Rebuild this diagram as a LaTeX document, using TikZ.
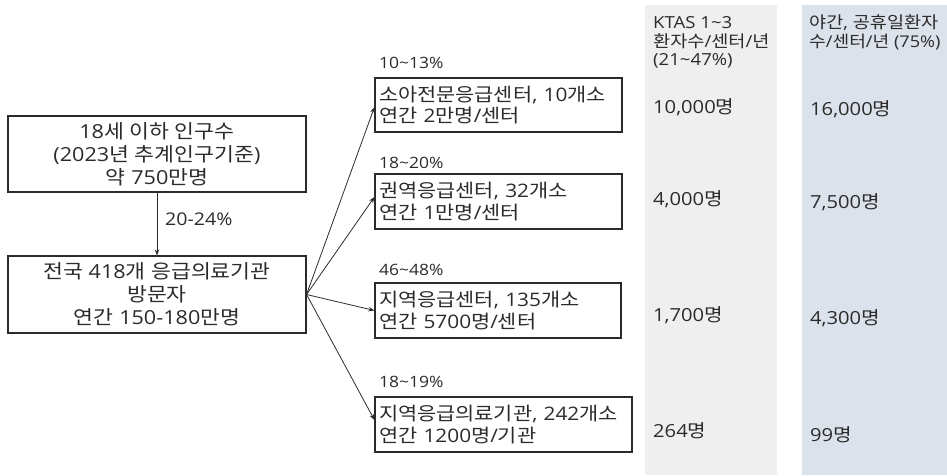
\documentclass[tikz,border=0pt]{standalone}
\usepackage{fontspec}
\setmainfont{Open Sans}[FakeStretch=1.12]
\newfontfamily\krfont{Noto Sans CJK KR}[FakeStretch=1.12]
\XeTeXinterchartokenstate=1
\newXeTeXintercharclass\hangulclass
\count255="AC00
\loop
  \XeTeXcharclass\count255=\hangulclass
  \ifnum\count255<"D7A3 \advance\count255 by 1 \repeat
\XeTeXinterchartoks 0 \hangulclass = {\begingroup\krfont}
\XeTeXinterchartoks 4095 \hangulclass = {\begingroup\krfont}
\XeTeXinterchartoks \hangulclass 0 = {\endgroup}
\XeTeXinterchartoks \hangulclass 4095 = {\endgroup}
\usetikzlibrary{arrows.meta}
\definecolor{ink}{HTML}{2B2B2B}
\definecolor{colgray}{HTML}{EFEFEF}
\definecolor{colblue}{HTML}{DCE2EB}
\tikzset{
  box/.style={draw=ink, line width=1.1pt, text=ink, inner sep=4pt},
  lefttxt/.style={font=\fontsize{19.3}{23}\selectfont, align=center},
  righttxt/.style={font=\fontsize{18.6}{21.5}\selectfont, align=left},
  lbl/.style={text=ink, font=\fontsize{15.6}{19}\selectfont, anchor=base west, inner sep=0pt},
  hdr/.style={text=ink, font=\fontsize{16.6}{19}\selectfont, anchor=base west, inner sep=0pt},
  val/.style={text=ink, font=\fontsize{18}{20}\selectfont, anchor=base west, inner sep=0pt},
  arr/.style={draw=ink, line width=0.8pt, -{Stealth[length=6pt,width=4.5pt]}},
}
\begin{document}
\begin{tikzpicture}[x=1pt,y=-1pt]
\useasboundingbox (0,0) rectangle (947,475);
% columns
\fill[colgray] (645,5) rectangle (777,475);
\fill[colblue] (802,5) rectangle (947,475);
% left boxes
\node[box, lefttxt, minimum width=298pt, minimum height=76pt] (A) at (157,154)
  {18세 이하 인구수\\(2023년 추계인구기준)\\약 750만명};
\node[box, lefttxt, minimum width=298pt, minimum height=77pt] (B) at (157,294.5)
  {전국 418개 응급의료기관\\방문자\\연간 150-180만명};
\draw[arr] (A) -- (B);
\node[lbl, font=\fontsize{17.5}{20}\selectfont] (p0) at (165,225) {20-24\%};
% right boxes
\node[box, righttxt, minimum width=247pt, minimum height=54pt, text width=239pt] (b1) at (498.5,105)
  {소아전문응급센터, 10개소\\연간 2만명/센터};
\node[box, righttxt, minimum width=247pt, minimum height=55pt, text width=239pt] (b2) at (498.5,201.5)
  {권역응급센터, 32개소\\연간 1만명/센터};
\node[box, righttxt, minimum width=246pt, minimum height=55pt, text width=238pt] (b3) at (498,310.5)
  {지역응급센터, 135개소\\연간 5700명/센터};
\node[box, righttxt, minimum width=257pt, minimum height=55pt, text width=249pt] (b4) at (503.5,424.5)
  {지역응급의료기관, 242개소\\연간 1200명/기관};
\node[lbl] (p1) at (379,68.5) {10\textasciitilde13\%};
\node[lbl] (p2) at (379,168) {18\textasciitilde20\%};
\node[lbl] (p3) at (379,275) {46\textasciitilde48\%};
\node[lbl] (p4) at (379,387) {18\textasciitilde19\%};
\draw[arr] (B.east) -- ([yshift=-2pt]b1.west);
\draw[arr] (B.east) -- ([yshift=4.5pt]b2.west);
\draw[arr] (B.east) -- (b3.west);
\draw[arr] (B.east) -- ([yshift=4.5pt]b4.west);
% column 1
\node[hdr] (h1a) at (653,28) {KTAS 1\textasciitilde3};
\node[hdr] (h1b) at (653,47) {환자수/센터/년};
\node[hdr] (h1c) at (653,65.5) {(21\textasciitilde47\%)};
\node[val] (v11) at (653,113) {10,000명};
\node[val] (v12) at (653,205) {4,000명};
\node[val] (v13) at (653,321) {1,700명};
\node[val] (v14) at (653,437) {264명};
% column 2
\node[hdr] (h2a) at (809,28) {야간, 공휴일환자};
\node[hdr, font=\fontsize{16.2}{19}\selectfont] (h2b) at (809,47.5) {수/센터/년 (75\%)};
\node[val] (v21) at (810,115) {16,000명};
\node[val] (v22) at (810,208.5) {7,500명};
\node[val] (v23) at (810,324) {4,300명};
\node[val] (v24) at (810,441) {99명};
\end{tikzpicture}
\end{document}
